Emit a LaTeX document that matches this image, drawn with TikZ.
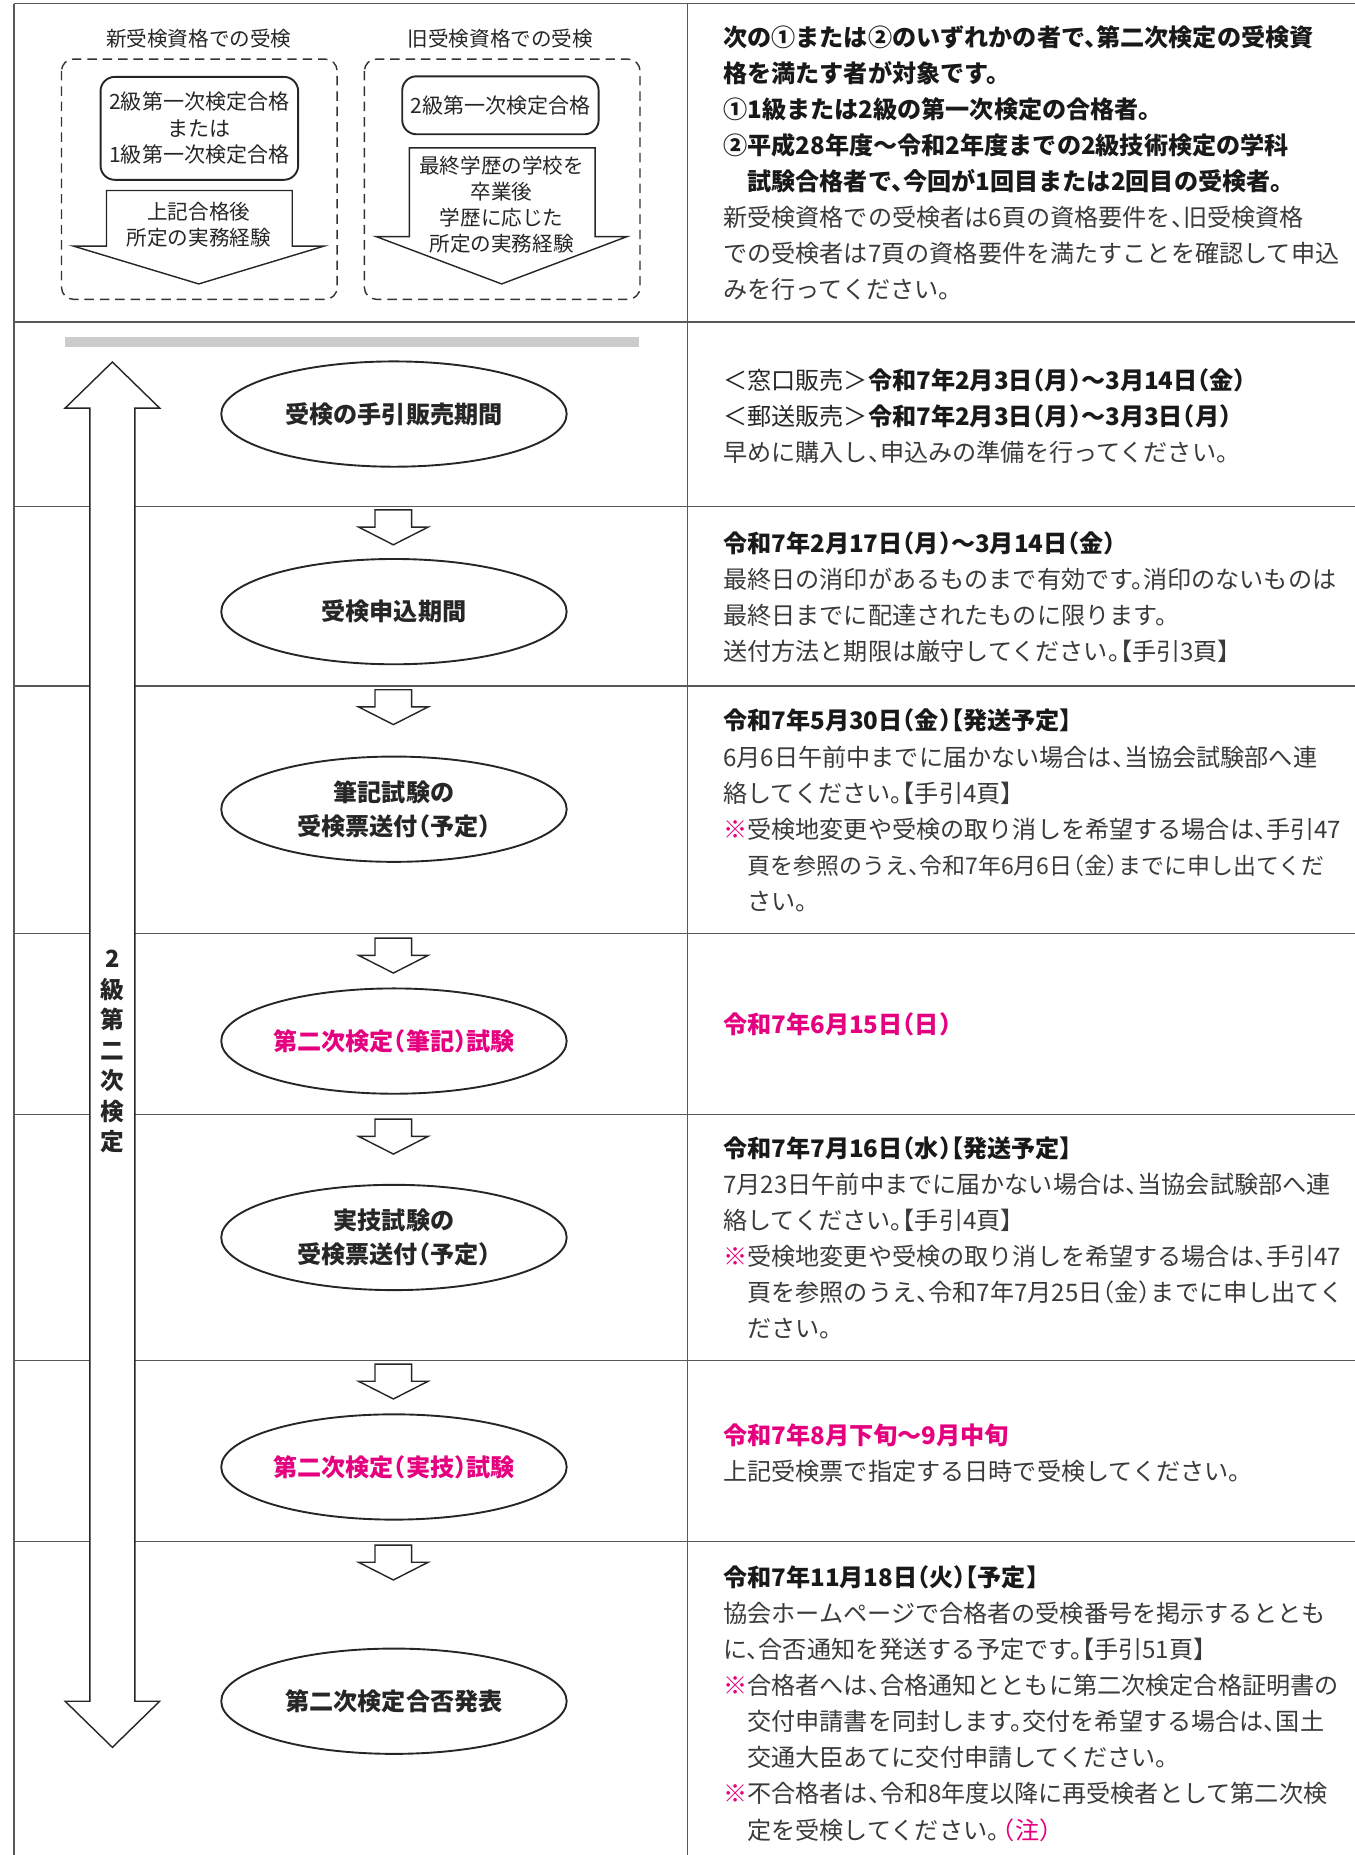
\documentclass[tikz,border=0pt]{standalone}
\usepackage{fontspec}
\setmainfont{Noto Sans CJK JP}[RawFeature=+halt]
\usetikzlibrary{shapes.geometric}
\definecolor{kenpink}{HTML}{E4007F}
\definecolor{bodygray}{HTML}{3A3A3A}
\newcommand{\hd}[1]{{\bfseries\color{black!90}#1}}
\newcommand{\kome}{\textcolor{kenpink}{※}}
\tikzset{
  rule/.style={draw=black!65, line width=0.7pt},
  dashbox/.style={draw=black!80, dashed, dash pattern=on 4pt off 2.5pt, rounded corners=5pt, line width=0.6pt},
  passbox/.style={draw=black!85, rounded corners=6pt, line width=0.8pt, inner sep=0pt, align=center,
    text=black!85, font=\fontsize{8.9}{11.2}\selectfont},
  capt/.style={inner sep=0pt, align=center, text=black!85, font=\fontsize{8.7}{11}\selectfont},
  hollow/.style={draw=black!85, fill=white, line width=0.6pt, line join=miter},
  stepnode/.style={ellipse, draw=black!85, line width=0.8pt, minimum width=146pt, minimum height=44.5pt,
    inner xsep=-10pt, inner ysep=0pt, align=center, text=black!85, font=\bfseries\fontsize{10.2}{14.5}\selectfont},
  memo/.style={anchor=north west, inner sep=0pt, align=left, text=bodygray, font=\fontsize{10.2}{15.25}\selectfont},
}

\begin{document}
\begin{tikzpicture}[x=0.5pt, y=-0.5pt]
\useasboundingbox (0,0) rectangle (1145,1568);

% table rules
\draw[rule] (12,3) -- (1145,3);
\draw[rule] (12,3) -- (12,1568);
\draw[rule] (581,3) -- (581,1568);
\foreach \yy in {272,428,580,789,942,1150,1303}
  \draw[rule] (12,\yy) -- (1145,\yy);

% qualification cell
\node[capt] (newcap) at (168,33) {新受検資格での受検};
\node[capt] (oldcap) at (423,33) {旧受検資格での受検};
\draw[dashbox] (52,50) rectangle (285,253);
\draw[dashbox] (308,50) rectangle (541,253);
\node[passbox, minimum width=83.5pt, minimum height=43.5pt] (newpass) at (168.5,108.5)
  {2級第一次検定合格\\または\\1級第一次検定合格};
\node[passbox, minimum width=83pt, minimum height=24.5pt] (oldpass) at (423,89) {2級第一次検定合格};
\draw[hollow] (90,161) -- (247,161) -- (247,208) -- (274,208) -- (168,240) -- (62,208) -- (90,208) -- cycle;
\draw[hollow] (346,125) -- (503,125) -- (503,200) -- (530,200) -- (424,240) -- (318,200) -- (346,200) -- cycle;
\node[capt] (newexp) at (168,190) {上記合格後\\所定の実務経験};
\node[capt] (oldexp) at (424,173) {最終学歴の学校を\\卒業後\\学歴に応じた\\所定の実務経験};

\node[memo] (qualtext) at (611,21) {%
  \hd{次の①または②のいずれかの者で、第二次検定の受検資}\\
  \hd{格を満たす者が対象です。}\\
  \hd{①1級または2級の第一次検定の合格者。}\\
  \hd{②平成28年度～令和2年度までの2級技術検定の学科}\\
  \hspace*{1em}\hd{試験合格者で、今回が1回目または2回目の受検者。}\\
  新受検資格での受検者は6頁の資格要件を、旧受検資格\\
  での受検者は7頁の資格要件を満たすことを確認して申込\\
  みを行ってください。};

% schedule band and period arrow
\fill[black!20] (55,285) rectangle (540,293);
\draw[hollow] (95,306) -- (135,345) -- (114,345) -- (114,1438) -- (135,1438) -- (95,1477)
  -- (55,1438) -- (76,1438) -- (76,345) -- (55,345) -- cycle;
\node[inner sep=0pt, align=center, text=black!85, font=\bfseries\fontsize{10}{12.9}\selectfont] (period) at (95,889)
  {2\\級\\第\\二\\次\\検\\定};

% steps
\foreach \tt in {431,583,793,946,1153,1306}
  \draw[hollow] (317,\tt) -- (348,\tt) -- (348,\tt+14.5) -- (362,\tt+14.5) -- (332.5,\tt+29.5)
    -- (303,\tt+14.5) -- (317,\tt+14.5) -- cycle;
\node[stepnode] (sale) at (333,350) {受検の手引販売期間};
\node[stepnode] (apply) at (333,517) {受検申込期間};
\node[stepnode] (ticketa) at (333,684) {筆記試験の\\受検票送付（予定）};
\node[stepnode, text=kenpink] (writexam) at (333,880) {第二次検定（筆記）試験};
\node[stepnode] (ticketb) at (333,1046) {実技試験の\\受検票送付（予定）};
\node[stepnode, text=kenpink] (practexam) at (333,1240) {第二次検定（実技）試験};
\node[stepnode] (result) at (333,1438) {第二次検定合否発表};

% dates and notes
\node[memo] (saletext) at (611,311) {%
  {\color{black!85}＜窓口販売＞}\hd{令和7年2月3日（月）～3月14日（金）}\\
  {\color{black!85}＜郵送販売＞}\hd{令和7年2月3日（月）～3月3日（月）}\\
  早めに購入し、申込みの準備を行ってください。};
\node[memo] (applytext) at (611,449) {%
  \hd{令和7年2月17日（月）～3月14日（金）}\\
  最終日の消印があるものまで有効です。消印のないものは\\
  最終日までに配達されたものに限ります。\\
  送付方法と期限は厳守してください。【手引3頁】};
\node[memo] (ticketatext) at (611,599) {%
  \hd{令和7年5月30日（金）【発送予定】}\\
  6月6日午前中までに届かない場合は、当協会試験部へ連\\
  絡してください。【手引4頁】\\
  \kome 受検地変更や受検の取り消しを希望する場合は、手引47\\
  \hspace*{1em}{\fontsize{9.7}{15.25}\selectfont 頁を参照のうえ、令和7年6月6日（金）までに申し出てくだ}\\
  \hspace*{1em}さい。};
\node[memo] (writetext) at (611,856) {{\bfseries\color{kenpink}令和7年6月15日（日）}};
\node[memo] (ticketbtext) at (611,960) {%
  \hd{令和7年7月16日（水）【発送予定】}\\
  7月23日午前中までに届かない場合は、当協会試験部へ連\\
  絡してください。【手引4頁】\\
  \kome 受検地変更や受検の取り消しを希望する場合は、手引47\\
  \hspace*{1em}頁を参照のうえ、令和7年7月25日（金）までに申し出てく\\
  \hspace*{1em}ださい。};
\node[memo] (practtext) at (611,1203) {%
  {\bfseries\color{kenpink}令和7年8月下旬～9月中旬}\\
  上記受検票で指定する日時で受検してください。};
\node[memo] (resulttext) at (611,1323) {%
  \hd{令和7年11月18日（火）【予定】}\\
  協会ホームページで合格者の受検番号を掲示するととも\\
  に、合否通知を発送する予定です。【手引51頁】\\
  \kome 合格者へは、合格通知とともに第二次検定合格証明書の\\
  \hspace*{1em}交付申請書を同封します。交付を希望する場合は、国土\\
  \hspace*{1em}交通大臣あてに交付申請してください。\\
  \kome 不合格者は、令和8年度以降に再受検者として第二次検\\
  \hspace*{1em}定を受検してください。\hspace{0.15em}\textcolor{kenpink}{（注）}};
\end{tikzpicture}
\end{document}
